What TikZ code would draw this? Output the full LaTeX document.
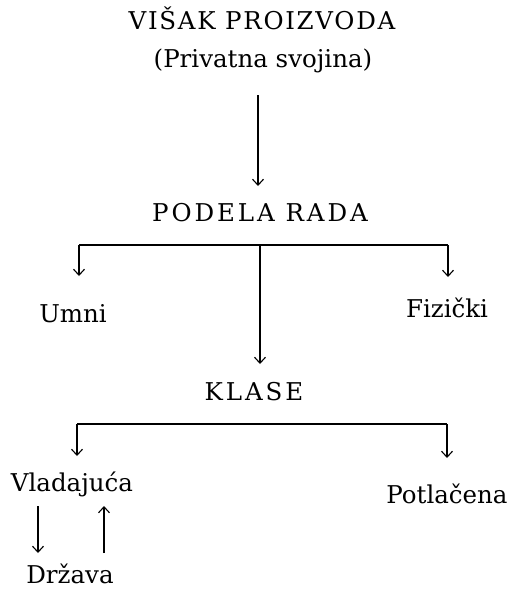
\documentclass[tikz,border=0pt]{standalone}
\usepackage{fontspec}
\setmainfont{DejaVu Serif}
\usetikzlibrary{arrows.meta}
\begin{document}
\begin{tikzpicture}[x=1pt,y=-1pt,
  txt/.style={font=\fontsize{24.5}{28}\selectfont, inner sep=0pt, anchor=base},
  caps/.style={txt, font=\fontsize{24.5}{28}\selectfont\addfontfeatures{LetterSpace=#1}},
  arr/.style={-{Straight Barb[length=6pt,width=11pt,line width=1.1pt]}, line width=1.3pt},
  ln/.style={line width=1.3pt}]
\useasboundingbox[fill=white] (0,0) rectangle (509,589);
% texts
\node[caps=7]  (visak)  at (262,29)  {VIŠAK PROIZVODA};
\node[txt]     (priv)   at (263,67)  {(Privatna svojina)};
\node[caps=12] (podela) at (260,221) {PODELA RADA};
\node[txt]     (umni)   at (73,322)  {Umni};
\node[txt]     (fiz)    at (447,317) {Fizički};
\node[caps=12] (klase)  at (254,400) {KLASE};
\node[txt]     (vlad)   at (72,491)  {Vladajuća};
\node[txt]     (potl)   at (447,503) {Potlačena};
\node[txt]     (drz)    at (70,583)  {Država};
% coordinates
\coordinate (a1s) at (258,95);
\coordinate (a1e) at (258,186);
\coordinate (j1)  at (260,245);
\coordinate (l1)  at (79,245);
\coordinate (r1)  at (448,245);
\coordinate (l1e) at (79,276);
\coordinate (r1e) at (448,277);
\coordinate (c1e) at (260,364);
\coordinate (l2)  at (77,424);
\coordinate (r2)  at (447,424);
\coordinate (l2e) at (77,456);
\coordinate (r2e) at (447,458);
\coordinate (ds)  at (38,506);
\coordinate (de)  at (38,553);
\coordinate (us)  at (104,553);
\coordinate (ue)  at (104,506);
% connectors
\draw[arr] (a1s) -- (a1e);
\draw[ln] (l1) -- (r1);
\draw[arr] (l1) -- (l1e);
\draw[arr] (r1) -- (r1e);
\draw[arr] (j1) -- (c1e);
\draw[ln] (l2) -- (r2);
\draw[arr] (l2) -- (l2e);
\draw[arr] (r2) -- (r2e);
\draw[arr] (ds) -- (de);
\draw[arr] (us) -- (ue);
\end{tikzpicture}
\end{document}
